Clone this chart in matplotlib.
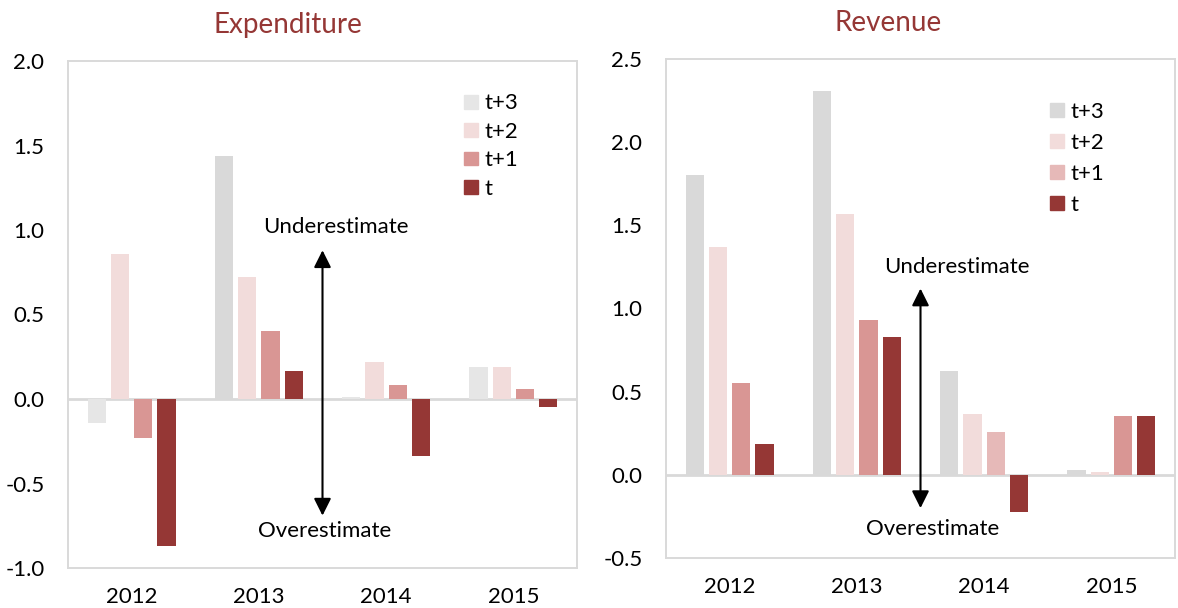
import matplotlib
matplotlib.use("Agg")
import numpy as np
import matplotlib.pyplot as plt
from matplotlib.patches import Patch

plt.rcParams['font.family'] = ['Lato', 'DejaVu Sans']

years = ['2012', '2013', '2014', '2015']
series = ['t+3', 't+2', 't+1', 't']

# expenditure forecast errors
exp_t3 = [-0.14, 1.44, 0.013, 0.19]
exp_t2 = [0.86, 0.72, 0.22, 0.19]
exp_t1 = [-0.23, 0.40, 0.085, 0.06]
exp_t = [-0.87, 0.165, -0.34, -0.046]

# revenue forecast errors
rev_t3 = [1.80, 2.31, 0.625, 0.028]
rev_t2 = [1.37, 1.57, 0.364, 0.015]
rev_t1 = [0.555, 0.93, 0.255, 0.351]
rev_t = [0.184, 0.83, -0.223, 0.351]

title_col = '#953735'
grid_col = '#d9d9d9'

exp_colors = [['#e6e6e6', '#d9d9d9', '#e6e6e6', '#e6e6e6'],
              ['#f2dcdb'] * 4,
              ['#d99694'] * 4,
              ['#953735'] * 4]
exp_legend = ['#e6e6e6', '#f2dcdb', '#d99694', '#953735']
rev_colors = [['#d9d9d9'] * 4,
              ['#f2dcdb'] * 4,
              ['#d99694', '#d99694', '#e6b9b8', '#d99694'],
              ['#953735'] * 4]
rev_legend = ['#d9d9d9', '#f2dcdb', '#e6b9b8', '#953735']


def draw_panel(ax, title, data, colors, leg_colors, ylim, leg_pos, leg_space,
               arrow, under_xy, over_xy, title_x):
    x = np.arange(len(years))
    step = 0.183
    width = 0.143
    for i, vals in enumerate(data):
        ax.bar(x + (i - 1.5) * step, vals, width, color=colors[i], zorder=2)
    ax.axhline(0, color=grid_col, lw=2, zorder=1)
    ax.set_xlim(-0.5, 3.5)
    ax.set_ylim(*ylim)
    ticks = np.arange(ylim[0], ylim[1] + 0.01, 0.5)
    ax.set_yticks(ticks)
    ax.set_yticklabels(['%.1f' % v for v in ticks])
    ax.set_xticks(x)
    ax.set_xticklabels(years)
    ax.tick_params(length=0, labelsize=16)
    ax.tick_params(axis='y', pad=17)
    ax.tick_params(axis='x', pad=14)
    for s in ax.spines.values():
        s.set_color(grid_col)
        s.set_linewidth(1.4)
    ax.set_title(title, color=title_col, fontsize=20, pad=20, x=title_x)

    handles = [Patch(color=c, label=l) for c, l in zip(leg_colors, series)]
    ax.legend(handles=handles, loc='upper left', bbox_to_anchor=leg_pos,
              frameon=False, fontsize=16, handlelength=0.63, handleheight=0.58,
              handletextpad=0.3, labelspacing=leg_space, borderpad=0,
              borderaxespad=0)

    ax.annotate('', xy=(1.5, arrow[0]), xytext=(1.5, arrow[1]),
                arrowprops=dict(arrowstyle='<|-|>', color='black', lw=1.5,
                                mutation_scale=26, shrinkA=0, shrinkB=0))
    ax.text(under_xy[0], under_xy[1], 'Underestimate', ha='center', va='center',
            fontsize=16)
    ax.text(over_xy[0], over_xy[1], 'Overestimate', ha='center', va='center',
            fontsize=16)


fig = plt.figure(figsize=(11.78, 6.08), dpi=100)
ax1 = fig.add_axes([68 / 1178, 40 / 608, 509 / 1178, 507 / 608])
ax2 = fig.add_axes([666 / 1178, 50 / 608, 509 / 1178, 499 / 608])

draw_panel(ax1, 'Expenditure', [exp_t3, exp_t2, exp_t1, exp_t], exp_colors,
           exp_legend, (-1.0, 2.0), (0.778, 0.936), 0.38,
           (0.88, -0.69), (1.606, 1.015), (1.516, -0.78), 0.432)
draw_panel(ax2, 'Revenue', [rev_t3, rev_t2, rev_t1, rev_t], rev_colors,
           rev_legend, (-0.5, 2.5), (0.754, 0.914), 0.5,
           (1.12, -0.20), (1.785, 1.247), (1.598, -0.323), 0.436)

fig.savefig('out.png', dpi=100)
